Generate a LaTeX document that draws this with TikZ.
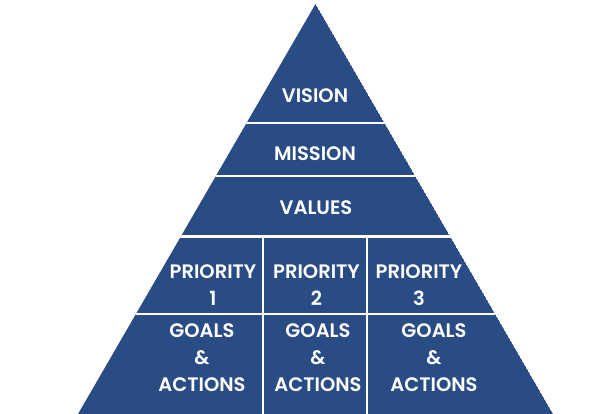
\documentclass[tikz,border=0pt]{standalone}
\usepackage{fontspec}
\setmainfont{Poppins}[UprightFont={* SemiBold}]
\definecolor{pyrblue}{HTML}{294C85}

\begin{document}
\begin{tikzpicture}[x=1pt,y=-1pt]
			\tikzstyle{tier}= [
				text = white, inner sep = 0pt, align = center,
				font = \fontsize{19.5}{27}\selectfont
			]
			\tikzstyle{divider}=[draw=white,line width=2.2pt]
			\useasboundingbox (0,0) rectangle (602,414);
			\coordinate (apex) at (315.5,4);
			\coordinate (baseL) at (78,414);
			\coordinate (baseR) at (553,414);
			\begin{scope}
				\clip (apex) -- (baseL) -- (baseR) -- cycle;
				\fill[pyrblue] (apex) -- (baseL) -- (baseR) -- cycle;
				\draw[divider] (0,123) -- (602,123);
				\draw[divider] (0,176) -- (602,176);
				\draw[divider] (0,236.5) -- (602,236.5);
				\draw[divider] (0,314) -- (602,314);
				\draw[divider] (263,236.5) -- (263,420);
				\draw[divider] (367,236.5) -- (367,420);
			\end{scope}
			\node[tier] (vision) at (315,96) {VISION};
			\node[tier] (mission) at (315,154) {MISSION};
			\node[tier] (values) at (316,208) {VALUES};
			\node[tier] (prio1) at (213,285.5) {PRIORITY\\1};
			\node[tier] (prio2) at (316.5,285.5) {PRIORITY\\2};
			\node[tier] (prio3) at (419,285.5) {PRIORITY\\3};
			\node[tier] (goals1) at (202,357.5) {GOALS\\\&\\ACTIONS};
			\node[tier] (goals2) at (318,357.5) {GOALS\\\&\\ACTIONS};
			\node[tier] (goals3) at (434,357.5) {GOALS\\\&\\ACTIONS};
		\end{tikzpicture}
\end{document}
